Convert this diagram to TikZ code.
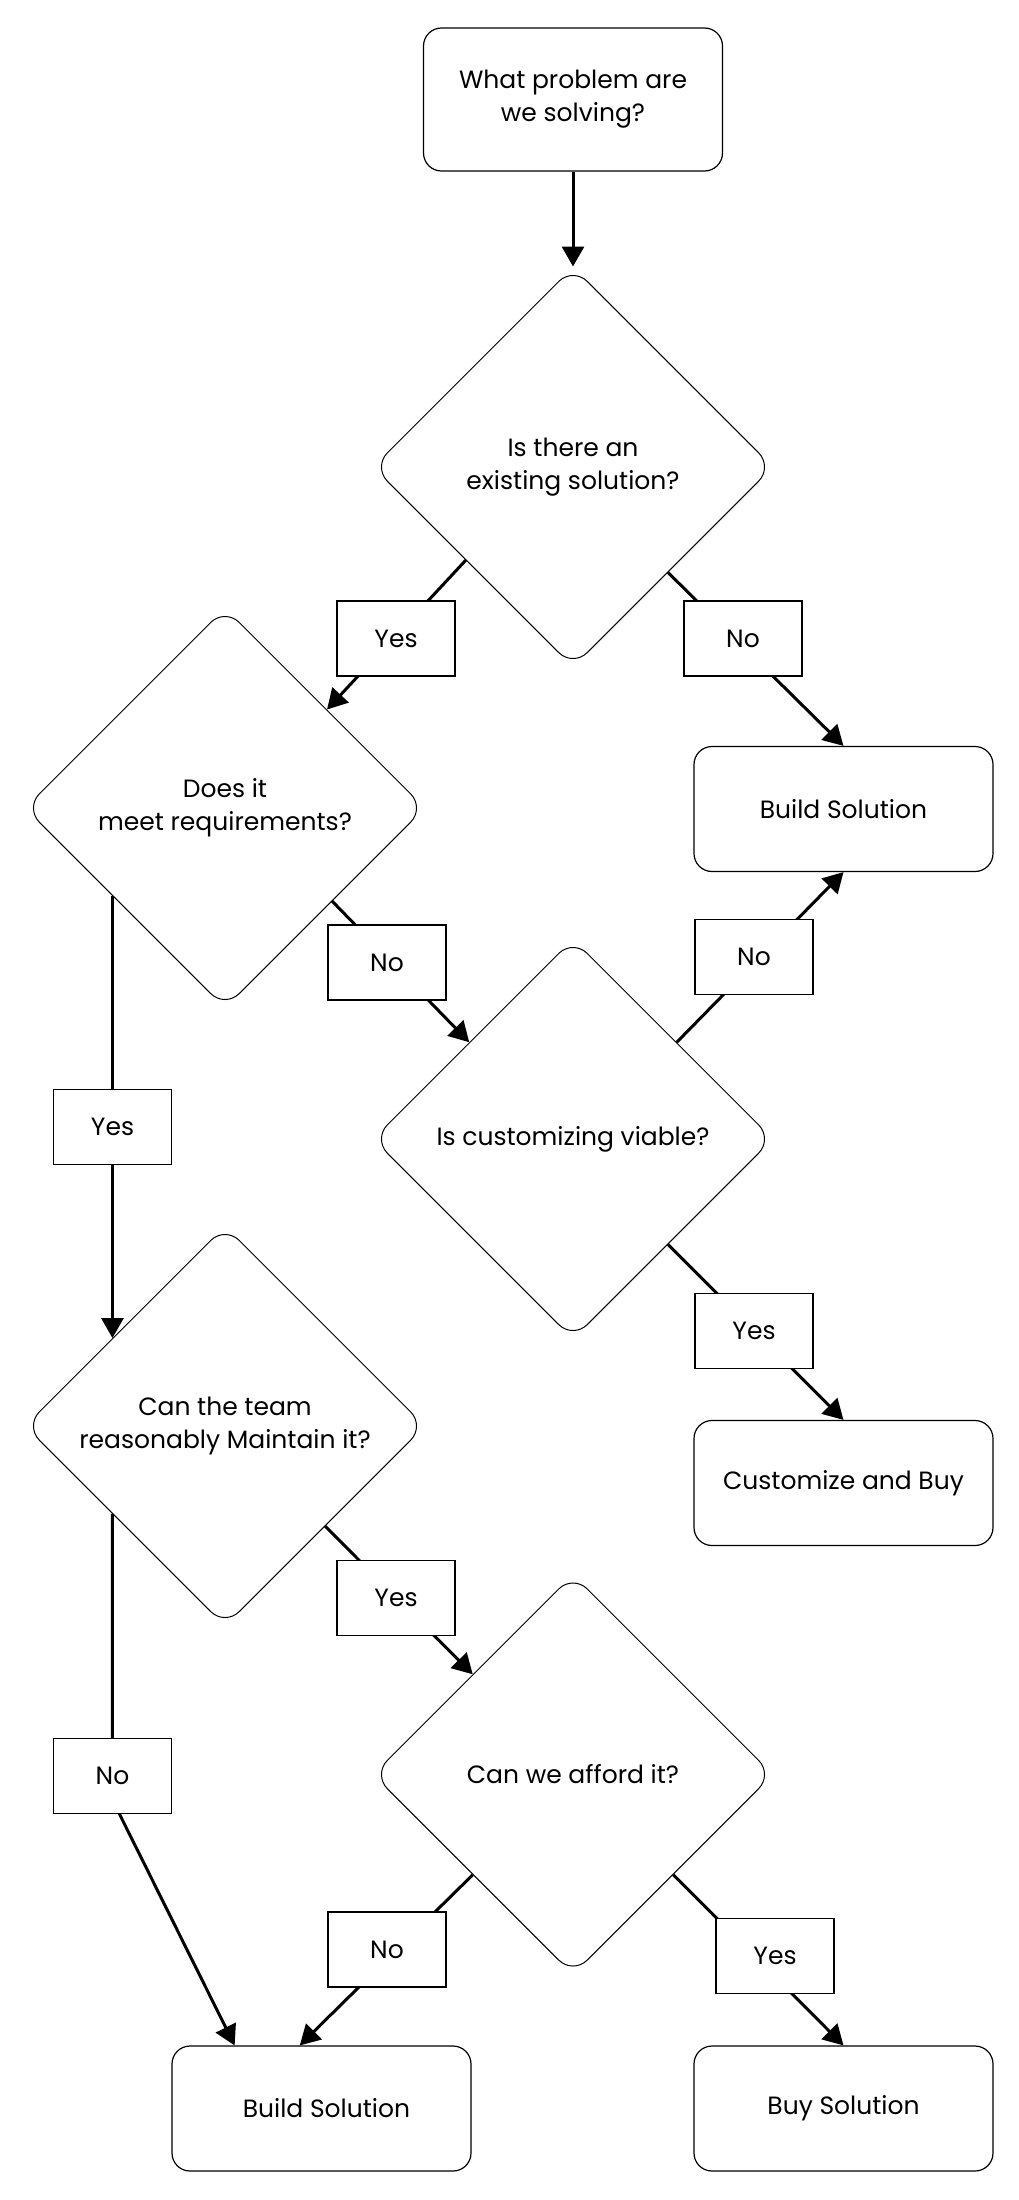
\documentclass[tikz,border=0pt]{standalone}
\usepackage{fontspec}
\setmainfont{Poppins}
\usetikzlibrary{shapes.geometric,arrows.meta}

\tikzset{every picture/.style={line width=0.75pt}}
\tikzset{
  decision/.style={draw, diamond, rounded corners=10pt, line width=0.5pt, fill=white, minimum width=200pt, minimum height=200pt, inner sep=0pt, align=center},
  result/.style={draw, rounded corners=9pt, line width=0.6pt, fill=white, minimum width=149.5pt, minimum height=62.5pt, align=center},
  answer/.style={draw, line width=0.6pt, fill=white, minimum width=59pt, minimum height=37.5pt, inner sep=0pt},
  flow/.style={line width=1.5pt, -{Triangle[length=10pt,width=11pt]}},
}

\begin{document}
\begin{tikzpicture}[x=0.5pt,y=0.5pt,yscale=-1,xscale=1,every node/.style={font=\fontsize{12.5}{16.5}\selectfont}]
\useasboundingbox (0,0) rectangle (1018,2200);

%Flowchart: Start
\draw (573,99.5) node [result, minimum height=71.5pt] (q0) {What problem are\\we solving?};
%Flowchart: Decision
\draw (573,467) node [decision] (d1) {Is there an\\existing solution?};
%Flowchart: Decision
\draw (225,808) node [decision] (d2) {Does it\\meet requirements?};
%Flowchart: Decision
\draw (573,1139) node [decision] (d3) {Is customizing viable?};
%Flowchart: Decision
\draw (225,1426) node [decision] (d4) {Can the team\\reasonably Maintain it?};
%Flowchart: Decision
\draw (573,1774.5) node [decision] (d5) {Can we afford it?};
%Flowchart: Results
\draw (843.5,809) node [result] (build1) {Build Solution};
\draw (843.5,1483) node [result] (custom) {Customize and Buy};
\draw (321.5,2108.5) node [result] (build2) {\hspace{5pt}Build Solution};
\draw (843.5,2108.5) node [result] (buy) {Buy Solution};

%Straight Lines
\draw [flow] (q0.south) -- (d1.north);
\draw [flow] (d1.221) -- (d2.44);
\draw [flow] (d1.-48) -- (build1.north);
\draw [flow] (d2.-41) -- (d3.137);
\draw [flow] (d3.43) -- (build1.south);
\draw [flow] (d3.-48) -- (custom.north);
\draw [flow] (d2.218) -- (d4.142);
\draw [flow] (d4.south east) -- (d5.north west);
\coordinate (k4) at (112.5,1800);
\draw [flow] (d4.218) -- (k4) -- (build2.144);
\draw [flow] (d5.south west) -- (build2.109);
\draw [flow] (d5.south east) -- (buy.north);

% Text Node
\draw (396,638.5) node [answer] (y1) {Yes};
\draw (743,638.5) node [answer] (n1) {No};
\draw (387,962.5) node [answer] (n2) {No};
\draw (754,957) node [answer] (n3) {No};
\draw (112.5,1127) node [answer] (y2) {Yes};
\draw (754,1331) node [answer] (y3) {Yes};
\draw (396,1598) node [answer] (y4) {Yes};
\draw (112.5,1776) node [answer] (n4) {No};
\draw (387,1949.5) node [answer] (n5) {No};
\draw (775,1956) node [answer] (y5) {Yes};

\end{tikzpicture}
\end{document}
